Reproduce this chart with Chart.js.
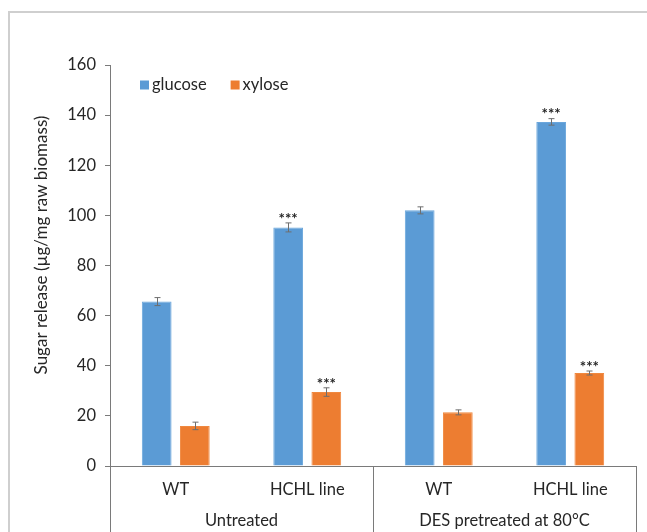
<!DOCTYPE html>
<html>
<head>
<meta charset="utf-8">
<script src="https://cdn.jsdelivr.net/npm/chart.js@4"></script>
<style>
  html, body { margin: 0; padding: 0; background: #fff; }
  #wrap { width: 647px; height: 532px; position: relative; }
</style>
</head>
<body>
<div id="wrap"><canvas id="sugarChart" width="647" height="532"></canvas></div>
<script>
const categories = ['WT', 'HCHL line', 'WT', 'HCHL line'];
const groups = ['Untreated', 'DES pretreated at 80°C'];
const glucose = [65.6, 95.2, 102.0, 137.3];
const glucoseErr = [1.6, 1.8, 1.4, 1.3];
const glucoseSig = ['', '***', '', '***'];
const xylose = [16.0, 29.5, 21.4, 37.1];
const xyloseErr = [1.5, 1.7, 1.0, 0.8];
const xyloseSig = ['', '***', '', '***'];
const yTicks = [0, 20, 40, 60, 80, 100, 120, 140, 160];

const textColor = '#262626';
const lineColor = '#7a7a7a';
const fontFamily = 'Lato, "Open Sans", sans-serif';
const fontSize = 16.5;

// frame, legend, error bars, stars, y title, group row
const extras = {
    id: 'extras',
    beforeDraw(chart) {
        const ctx = chart.ctx;
        ctx.save();
        ctx.fillStyle = '#cfcfcf';
        ctx.fillRect(8, 11, chart.width - 8, 2);
        ctx.fillRect(8, 11, 2, chart.height - 11);
        ctx.restore();
    },
    afterDatasetsDraw(chart) {
        const ctx = chart.ctx;
        const y = chart.scales.y;
        const area = chart.chartArea;
        const errs = [glucoseErr, xyloseErr];
        const sigs = [glucoseSig, xyloseSig];
        ctx.save();
        chart.data.datasets.forEach((ds, di) => {
            const meta = chart.getDatasetMeta(di);
            meta.data.forEach((bar, i) => {
                const v = ds.data[i];
                const top = y.getPixelForValue(v + errs[di][i]);
                const bot = y.getPixelForValue(v - errs[di][i]);
                const x = Math.round(bar.x) + 0.5;
                ctx.strokeStyle = '#6e6e6e';
                ctx.lineWidth = 1;
                ctx.beginPath();
                ctx.moveTo(x, top); ctx.lineTo(x, bot);
                ctx.moveTo(x - 3, top); ctx.lineTo(x + 3, top);
                ctx.moveTo(x - 3, bot); ctx.lineTo(x + 3, bot);
                ctx.stroke();
                if (sigs[di][i]) {
                    ctx.fillStyle = textColor;
                    ctx.font = 'bold 15px ' + fontFamily;
                    ctx.textAlign = 'center';
                    ctx.textBaseline = 'middle';
                    ctx.fillText(sigs[di][i], bar.x, top - 4);
                }
            });
        });

        // legend
        ctx.font = fontSize + 'px ' + fontFamily;
        ctx.textBaseline = 'middle';
        ctx.textAlign = 'left';
        let lx = area.left + 30;
        const ly = 85;
        chart.data.datasets.forEach((ds) => {
            ctx.fillStyle = ds.backgroundColor;
            ctx.fillRect(lx, ly - 4.5, 9, 9);
            ctx.fillStyle = textColor;
            ctx.fillText(ds.label, lx + 12, ly);
            lx += 12 + ctx.measureText(ds.label).width + 24;
        });

        // y title
        ctx.save();
        ctx.translate(42, 245);
        ctx.rotate(-Math.PI / 2);
        ctx.fillStyle = textColor;
        ctx.font = '17px ' + fontFamily;
        ctx.textAlign = 'center';
        ctx.textBaseline = 'middle';
        ctx.fillText('Sugar release (µg/mg raw biomass)', 0, 0);
        ctx.restore();

        // group row
        const xs = chart.scales.x;
        const per = categories.length / groups.length;
        const w = (area.right - area.left) / groups.length;
        ctx.strokeStyle = lineColor;
        ctx.lineWidth = 1;
        ctx.beginPath();
        for (let g = 0; g <= groups.length; g++) {
            const gx = Math.round(area.left + g * w) + 0.5;
            ctx.moveTo(gx, area.bottom);
            ctx.lineTo(gx, chart.height);
        }
        ctx.stroke();
        ctx.fillStyle = textColor;
        ctx.font = fontSize + 'px ' + fontFamily;
        ctx.textAlign = 'center';
        ctx.textBaseline = 'middle';
        groups.forEach((g, gi) => {
            const cx = (xs.getPixelForValue(gi * per) + xs.getPixelForValue(gi * per + per - 1)) / 2;
            ctx.fillText(g, cx, 521);
        });
        ctx.restore();
    }
};

new Chart(document.getElementById('sugarChart'), {
    type: 'bar',
    data: {
        labels: categories,
        datasets: [{
            label: 'glucose',
            data: glucose,
            backgroundColor: '#5b9bd5',
            borderColor: '#6aa6dc',
            borderWidth: 1,
            categoryPercentage: 0.58,
            barPercentage: 0.78
        }, {
            label: 'xylose',
            data: xylose,
            backgroundColor: '#ed7d31',
            borderColor: '#f0883f',
            borderWidth: 1,
            categoryPercentage: 0.58,
            barPercentage: 0.78
        }]
    },
    options: {
        responsive: false,
        animation: false,
        layout: { padding: { left: 30, right: 11, top: 65, bottom: 0 } },
        plugins: {
            legend: { display: false },
            tooltip: { enabled: false }
        },
        scales: {
            x: {
                afterFit: (s) => { s.height = 66; },
                grid: { display: false, drawTicks: false },
                border: { display: true, color: lineColor },
                ticks: {
                    color: textColor,
                    padding: 14,
                    font: { family: fontFamily, size: fontSize }
                }
            },
            y: {
                min: 0,
                max: 160,
                afterFit: (s) => { s.width = 80; },
                afterBuildTicks: (s) => { s.ticks = yTicks.map(v => ({ value: v })); },
                grid: { drawOnChartArea: false, tickLength: 5, color: lineColor },
                border: { display: true, color: lineColor },
                ticks: {
                    color: textColor,
                    padding: 9,
                    font: { family: fontFamily, size: fontSize }
                }
            }
        }
    },
    plugins: [extras]
});
</script>
</body>
</html>
